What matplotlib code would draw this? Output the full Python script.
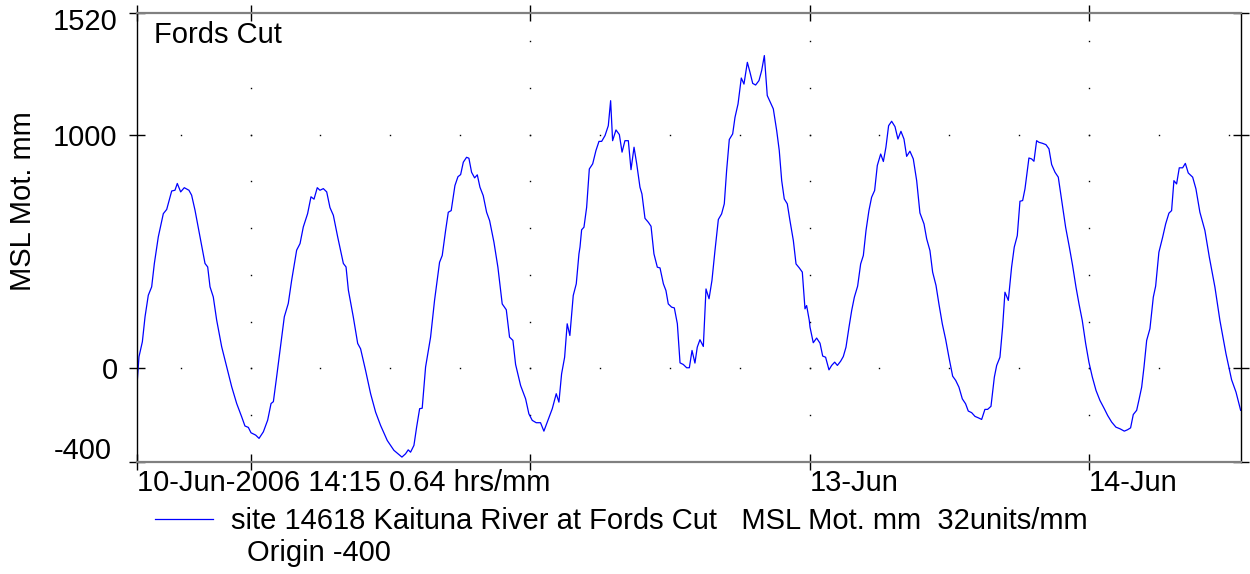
import numpy as np
import pandas as pd
import matplotlib
matplotlib.use('Agg')
import matplotlib.pyplot as plt
from matplotlib.transforms import ScaledTranslation

plt.rcParams['font.family'] = ['Liberation Sans', 'DejaVu Sans']

# water level record, hours after 10-Jun-2006 14:15, level in mm
hours_a = [0.0, 0.17, 0.46, 0.69, 0.97, 1.26, 1.49, 1.83, 2.26, 2.55, 2.98, 3.26, 3.46, 3.75, 4.06, 4.46,
           4.69, 4.98, 5.41, 5.84, 6.07, 6.27, 6.55, 6.84, 7.27, 7.70, 8.13, 8.56, 8.99, 9.27, 9.56, 9.79,
           10.19, 10.48, 10.85, 11.22, 11.51, 11.71, 11.99, 12.28, 12.65, 12.99, 13.28, 13.71, 14.00, 14.28,
           14.65, 14.94, 15.20, 15.48, 15.71, 16.00, 16.29, 16.57, 16.86, 17.23, 17.72, 17.95, 18.15, 18.57, 18.95]
level_a = [-70, 50, 114, 221, 313, 349, 449, 563, 662, 680, 759, 762, 791, 755, 773, 762,
           741, 677, 563, 449, 434, 349, 306, 207, 93, 7, -78, -150, -207, -246, -252, -275,
           -285, -299, -271, -221, -150, -142, -36, 78, 221, 278, 377, 506, 534, 605,
           662, 734, 724, 773, 762, 769, 755, 688, 655, 563, 449, 434, 335, 221, 107]

hours_b = [19.20, 19.63, 20.06, 20.49, 20.92, 21.49, 22.06, 22.41, 22.75, 23.06, 23.29, 23.49, 23.78, 24.01,
           24.27, 24.49, 24.78, 25.21, 25.55, 25.98, 26.21, 26.50, 26.73, 26.98, 27.30, 27.56, 27.79, 28.02,
           28.30, 28.50, 28.73, 28.99, 29.22, 29.45, 29.73, 30.02, 30.28, 30.65, 30.99, 31.36, 31.71, 31.99,
           32.28, 32.51, 32.94, 33.37, 33.65, 33.94, 34.28, 34.65, 34.94, 35.23, 35.66, 36.00, 36.23, 36.46,
           36.72, 36.94, 37.17, 37.46, 37.72, 37.95]
level_b = [84, -9, -108, -187, -244, -308, -350, -365, -379, -365, -348, -358, -329, -251,
           -172, -170, 6, 134, 291, 454, 483, 590, 668, 675, 782, 820, 829, 882,
           903, 899, 839, 815, 828, 775, 739, 668, 632, 540, 433, 276, 251, 134,
           120, 17, -73, -130, -194, -222, -232, -232, -268, -229, -172, -108, -144, -23,
           48, 191, 141, 312, 362, 490]

hours_c = [38.04, 38.18, 38.38, 38.61, 38.84, 39.13, 39.41, 39.67, 39.90, 40.19, 40.47, 40.67, 40.84, 41.13,
           41.42, 41.65, 41.90, 42.19, 42.42, 42.68, 42.91, 43.19, 43.36, 43.62, 43.91, 44.14, 44.39, 44.68,
           44.91, 45.20, 45.42, 45.62, 45.91, 46.14, 46.40, 46.63, 46.91, 47.20, 47.43, 47.66, 47.91, 48.11,
           48.34, 48.63, 48.86, 49.12, 49.37, 49.63, 49.92, 50.20, 50.43, 50.63, 50.86, 51.15, 51.35, 51.61,
           51.89, 52.12, 52.41, 52.64, 52.87, 53.12, 53.41, 53.64, 53.87, 54.12, 54.35, 54.64, 54.93, 55.15,
           55.36, 55.58, 55.84, 56.07, 56.36, 56.59, 56.87, 57.13, 57.36, 57.50, 57.73]
level_c = [519, 593, 604, 689, 853, 875, 932, 971, 971, 996, 1038, 1145, 974, 1020,
           1000, 925, 974, 974, 850, 946, 875, 775, 746, 642, 625, 608, 490, 433,
           430, 362, 333, 276, 262, 259, 191, 24, 17, 3, 3, 77, 23, 91,
           123, 94, 340, 298, 376, 504, 637, 661, 704, 846, 979, 1003, 1074, 1131,
           1242, 1216, 1309, 1266, 1219, 1212, 1231, 1274, 1338, 1167, 1142, 1110, 1017, 932,
           803, 725, 704, 632, 547, 447, 430, 412, 255, 269, 205]

hours_d = [57.79, 58.07, 58.36, 58.65, 58.88, 59.13, 59.42, 59.65, 59.91, 60.14, 60.42, 60.65, 60.88, 61.14,
           61.37, 61.60, 61.88, 62.14, 62.37, 62.60, 62.85, 63.08, 63.34, 63.57, 63.86, 64.09, 64.31, 64.54,
           64.80, 65.09, 65.34, 65.60, 65.86, 66.09, 66.37, 66.66, 66.95, 67.23, 67.58, 67.81, 68.09, 68.32,
           68.61, 68.86, 69.15, 69.44, 69.72, 70.04, 70.30, 70.58, 70.87, 71.15, 71.38, 71.67, 71.96, 72.24,
           72.53, 72.81, 73.04, 73.33, 73.62, 73.82, 74.10, 74.33, 74.53, 74.82, 75.10, 75.33, 75.59, 75.82, 76.05]
level_d = [177, 110, 130, 108, 53, 48, -6, 13, 27, 13, 31, 51, 91, 177,
           248, 305, 352, 447, 483, 590, 675, 732, 761, 868, 917, 885, 946, 1038,
           1057, 1034, 981, 1014, 981, 907, 929, 896, 803, 665, 618, 554, 504, 412,
           355, 276, 191, 124, 48, -33, -51, -80, -130, -151, -182, -189, -205, -211,
           -218, -175, -175, -162, -37, 13, 48, 177, 326, 291, 433, 519, 568, 715, 718]

hours_e = [76.25, 76.59, 76.82, 77.02, 77.25, 77.45, 77.74, 78.05, 78.31, 78.54, 78.83, 79.11, 79.40, 79.74,
           80.06, 80.34, 80.63, 80.89, 81.17, 81.46, 81.74, 82.03, 82.35, 82.69, 83.06, 83.35, 83.69, 84.06,
           84.41, 84.78, 85.06, 85.32, 85.55, 85.84, 86.04, 86.27, 86.47, 86.70, 86.98, 87.27, 87.47, 87.75,
           88.07, 88.33, 88.61, 88.84, 89.04, 89.27, 89.50, 89.79, 90.02, 90.27, 90.65, 90.93, 91.27, 91.70,
           92.08, 92.56, 92.99, 93.51, 93.99, 94.37, 94.77]
level_e = [768, 900, 896, 886, 974, 967, 963, 957, 939, 872, 839, 818, 718, 604,
           519, 440, 348, 276, 205, 107, 27, -36, -94, -137, -172, -201, -229, -251,
           -258, -268, -262, -254, -197, -179, -134, -80, 6, 120, 170, 305, 352, 497,
           561, 618, 664, 675, 803, 789, 858, 858, 877, 836, 818, 768, 668, 590,
           476, 348, 205, 63, -48, -101, -179]

start = pd.Timestamp('2006-06-10 14:15')
span_hours = 94.8
ytick_vals = [-400, 0, 1000, 1520]
xtick_labels = ['10-Jun-2006 14:15 0.64 hrs/mm', '', '', '13-Jun', '14-Jun']
legend_text = 'site 14618 Kaituna River at Fords Cut   MSL Mot. mm  32units/mm'

hours = np.concatenate([hours_a, hours_b, hours_c, hours_d, hours_e])
level = np.concatenate([level_a, level_b, level_c, level_d, level_e])
times = start + pd.to_timedelta(hours, unit='h')
end = start + pd.Timedelta(hours=span_hours)

fig = plt.figure(figsize=(12.5, 5.74), dpi=100)
ax = fig.add_axes([137/1250, 1-462/574, 1104/1250, 449/574])

line, = ax.plot(times, level, color='#0000ff', lw=0.9)

ax.set_xlim(start, end)
ax.set_ylim(-400, 1520)

# dotted grid: every 200 mm on day boundaries, every 6 h on the labelled levels
days = pd.date_range('2006-06-11', '2006-06-14', freq='D')
six_hourly = pd.date_range('2006-06-10 18:00', end, freq='6h')
gx, gy = np.meshgrid(days, np.arange(-200, 1500, 200))
ax.plot(gx.ravel(), gy.ravel(), 's', color='k', ms=1.0, mew=0, zorder=1)
hx, hy = np.meshgrid(six_hourly, [0, 1000])
ax.plot(hx.ravel(), hy.ravel(), 's', color='k', ms=1.0, mew=0, zorder=1)

ax.set_xticks([start] + list(days))
ax.set_xticklabels(xtick_labels, ha='left')
ax.set_yticks(ytick_vals)
ax.set_yticklabels([str(v) for v in ytick_vals])
ax.tick_params(axis='both', which='major', direction='inout', length=12, width=1.0,
               labelsize=21, top=True, right=True, color='k')
ax.tick_params(axis='x', pad=-1)
ax.tick_params(axis='y', pad=8)

# nudge end labels of the y axis inward
labs = ax.get_yticklabels()
labs[-1].set_transform(labs[-1].get_transform() + ScaledTranslation(0, -4/72, fig.dpi_scale_trans))
labs[0].set_transform(labs[0].get_transform() + ScaledTranslation(-4/72, 10/72, fig.dpi_scale_trans))

for s in ['top', 'bottom']:
    ax.spines[s].set_color('#808080')
    ax.spines[s].set_linewidth(1.6)
for s in ['left', 'right']:
    ax.spines[s].set_color('k')
    ax.spines[s].set_linewidth(1.0)

ax.set_ylabel('MSL Mot. mm', fontsize=21)
ax.yaxis.set_label_coords(37/1250, 1-201/574, transform=fig.transFigure)
ax.text(17/1104, (462-43)/449, 'Fords Cut', transform=ax.transAxes, fontsize=21, va='baseline')

ax.legend([line], [legend_text], loc='center left', bbox_to_anchor=(155/1250, 1-521/574),
          bbox_transform=fig.transFigure, frameon=False, borderpad=0, borderaxespad=0,
          handlelength=2.0, handletextpad=0.6, fontsize=21)
fig.text(247/1250, 1-561/574, 'Origin -400', fontsize=21, va='baseline')

fig.savefig('out.png', dpi=100)
